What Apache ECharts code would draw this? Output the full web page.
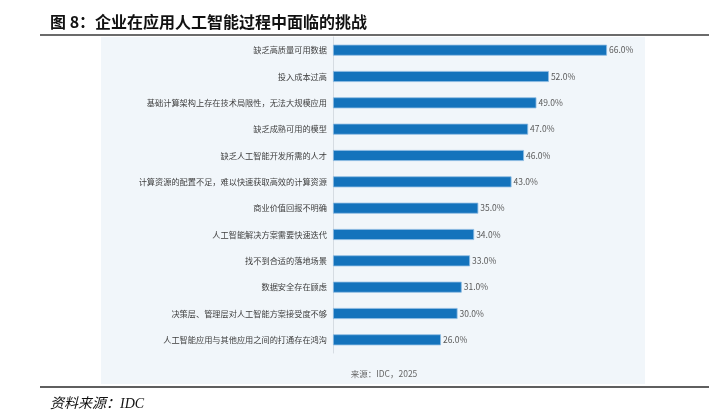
<!DOCTYPE html>
<html>
<head>
<meta charset="utf-8">
<script src="https://cdn.jsdelivr.net/npm/echarts@6/dist/echarts.min.js"></script>
<style>
html,body{margin:0;padding:0;background:#fff;}
#c{width:718px;height:418px;}
</style>
</head>
<body>
<div id="c"></div>
<script>
const categories = [
  '缺乏高质量可用数据',
  '投入成本过高',
  '基础计算架构上存在技术局限性，无法大规模应用',
  '缺乏成熟可用的模型',
  '缺乏人工智能开发所需的人才',
  '计算资源的配置不足，难以快速获取高效的计算资源',
  '商业价值回报不明确',
  '人工智能解决方案需要快速迭代',
  '找不到合适的落地场景',
  '数据安全存在顾虑',
  '决策层、管理层对人工智能方案接受度不够',
  '人工智能应用与其他应用之间的打通存在鸿沟'
];
const values = [66, 52, 49, 47, 46, 43, 35, 34, 33, 31, 30, 26];
const titleText = '图 8：企业在应用人工智能过程中面临的挑战';
const innerSource = '来源：IDC，2025';
const footSource = '资料来源：IDC';

const chart = echarts.init(document.getElementById('c'), null, {renderer: 'canvas'});
const cjk = '"Noto Sans CJK SC", "Noto Sans", sans-serif';
chart.setOption({
  animation: false,
  backgroundColor: '#ffffff',
  graphic: [
    {type: 'rect', z: -10, shape: {x: 101, y: 37, width: 544, height: 347}, style: {fill: '#f1f6fa'}},
    {type: 'text', x: 50, y: 22, style: {text: titleText, font: 'bold 16px ' + cjk, fill: '#111111', verticalAlign: 'middle'}},
    {type: 'line', shape: {x1: 40, y1: 35, x2: 709, y2: 35}, style: {stroke: '#3a3a3a', lineWidth: 1.6}},
    {type: 'line', shape: {x1: 40, y1: 387, x2: 709, y2: 387}, style: {stroke: '#2a2a2a', lineWidth: 1.6}},
    {type: 'text', x: 384, y: 374, style: {text: innerSource, font: '8.5px ' + cjk, fill: '#666666', align: 'center', verticalAlign: 'middle'}},
    {type: 'text', x: 50, y: 404, style: {text: footSource, font: 'italic 14px "Liberation Serif", "Noto Sans CJK SC", serif', fill: '#111111', verticalAlign: 'middle'}}
  ],
  grid: {left: 333, right: 111, top: 37, height: 316, containLabel: false},
  xAxis: {
    type: 'value', min: 0, max: 66, show: false
  },
  yAxis: {
    type: 'category', data: categories, inverse: true,
    axisLine: {show: true, lineStyle: {color: '#d6dce2', width: 1}},
    axisTick: {show: false},
    axisLabel: {color: '#404040', fontSize: 8.2, fontFamily: cjk, margin: 6}
  },
  series: [{
    type: 'bar', data: values, barWidth: 11,
    itemStyle: {color: '#1473bc', borderColor: '#8dbbe2', borderWidth: 0.8},
    label: {show: true, position: 'right', distance: 2, color: '#595959', fontSize: 8.5, fontFamily: cjk,
      formatter: p => p.value.toFixed(1) + '%'}
  }]
});
</script>
</body>
</html>
